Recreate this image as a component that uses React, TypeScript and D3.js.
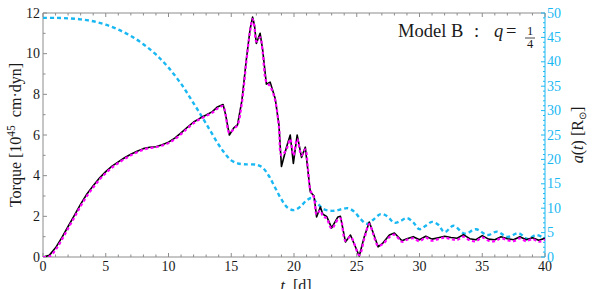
import React from 'react'
import * as d3 from 'd3'

// torque (black solid, simulation) in 1e45 cm dyn
const tTorque = [0, 0.5, 1, 1.5, 2, 2.5, 3, 3.5, 4, 4.5, 5, 5.5, 6, 6.5, 7, 7.5, 8, 8.5, 9, 9.5, 10, 10.5, 11, 11.5, 12, 12.5, 13, 13.5, 13.9, 14.35, 14.55, 14.85, 15.2, 15.5, 15.85, 16.2, 16.5, 16.7, 16.85, 17, 17.3, 17.5, 17.8, 18.1, 18.5, 18.8, 19, 19.4, 19.7, 19.95, 20.25, 20.6, 20.9, 21.1, 21.3, 21.6, 21.8, 22.1, 22.3, 22.6, 23, 23.5, 23.7, 24.1, 24.5, 25.2, 25.6, 26, 26.3, 26.7, 27.1, 27.6, 28, 28.6, 29, 29.5, 30, 30.5, 31, 31.5, 32, 32.5, 33, 33.5, 34, 34.5, 35, 35.5, 36, 36.5, 37, 37.5, 38, 38.5, 39, 39.5, 40]
const torqueBlack = [0, 0.08, 0.45, 0.95, 1.5, 2.05, 2.6, 3.1, 3.5, 3.88, 4.2, 4.47, 4.68, 4.88, 5.05, 5.2, 5.33, 5.4, 5.42, 5.52, 5.65, 5.85, 6.1, 6.38, 6.64, 6.82, 6.98, 7.15, 7.38, 7.5, 7.0, 6.0, 6.35, 6.5, 7.7, 9.7, 11.2, 11.8, 11.4, 10.5, 11.0, 10.2, 8.5, 8.6, 7.8, 6.5, 4.45, 5.4, 6.0, 4.6, 6.0, 4.9, 5.4, 4.3, 3.2, 3.0, 1.97, 2.46, 2.1, 2.0, 1.43, 1.97, 2.0, 0.74, 1.08, 0.05, 1.0, 1.72, 1.2, 0.5, 0.7, 1.08, 1.18, 0.8, 0.9, 1.0, 0.85, 1.02, 0.88, 0.95, 1.02, 0.96, 0.92, 1.1, 0.9, 0.85, 1.05, 0.88, 0.85, 1.0, 0.9, 0.85, 1.0, 0.85, 0.95, 0.82, 0.92]
// torque (magenta dashed, analytic)
const torqueMagenta = [0, 0.02, 0.35, 0.85, 1.4, 1.95, 2.5, 3.0, 3.42, 3.8, 4.12, 4.4, 4.62, 4.82, 5.0, 5.15, 5.28, 5.36, 5.4, 5.48, 5.6, 5.8, 6.04, 6.32, 6.58, 6.78, 6.94, 7.1, 7.3, 7.42, 7.0, 6.1, 6.3, 6.5, 7.6, 9.6, 11.1, 11.7, 11.3, 10.6, 10.8, 10.1, 8.6, 8.4, 7.7, 6.4, 5.0, 5.3, 5.8, 5.0, 5.8, 5.0, 5.3, 4.4, 3.3, 2.9, 2.1, 2.3, 2.0, 1.9, 1.4, 1.85, 1.9, 0.8, 1.0, 0.1, 0.9, 1.62, 1.15, 0.55, 0.65, 0.98, 1.1, 0.75, 0.85, 0.92, 0.78, 0.95, 0.8, 0.88, 0.95, 0.88, 0.84, 1.0, 0.82, 0.78, 0.96, 0.8, 0.78, 0.92, 0.82, 0.78, 0.92, 0.78, 0.88, 0.75, 0.86]

// orbital separation a(t) in solar radii (cyan dashed, right axis)
const tSep = [0, 1, 2, 3, 4, 5, 6, 7, 8, 9, 10, 11, 12, 13, 14, 14.5, 15, 15.5, 16, 17, 17.5, 18, 18.5, 19, 19.5, 20, 20.5, 21, 21.4, 21.8, 22.3, 22.8, 23.3, 23.8, 24.3, 24.8, 25.3, 25.8, 26.3, 26.9, 27.4, 28, 28.5, 29, 29.5, 30, 30.5, 31, 31.5, 32, 32.7, 33.6, 34.5, 35.4, 36.2, 37, 37.9, 38.6, 39.3, 40]
const sep = [49.0, 49.0, 48.9, 48.7, 48.3, 47.6, 46.6, 45.3, 43.6, 41.5, 38.8, 35.5, 31.5, 27.3, 23.0, 21.2, 19.8, 19.2, 19.0, 18.9, 18.3, 16.6, 14.2, 11.8, 10.1, 9.6, 10.3, 11.6, 12.1, 11.2, 9.9, 9.5, 9.5, 9.8, 10.0, 9.3, 7.8, 6.8, 7.6, 8.8, 8.4, 7.0, 7.4, 8.0, 7.1, 5.7, 6.4, 7.2, 6.6, 5.1, 6.4, 4.8, 5.7, 4.5, 5.2, 4.1, 4.9, 3.7, 4.5, 3.8]

const xTicks = [0, 5, 10, 15, 20, 25, 30, 35, 40]
const yTicks = [0, 2, 4, 6, 8, 10, 12]
const y2Ticks = [0, 5, 10, 15, 20, 25, 30, 35, 40, 45, 50]

const W = 592
const H = 289
const L = 43, R = 545, T = 13, B = 257
const CYAN = '#19b8f2'
const GRAY = '#8c8c8c'
const serif = '"Liberation Serif", "Times New Roman", serif'

export default function App() {
  const x = d3.scaleLinear().domain([0, 40]).range([L, R])
  const y = d3.scaleLinear().domain([0, 12]).range([B, T])
  const y2 = d3.scaleLinear().domain([0, 50]).range([B, T])

  const torqueLine = d3.line<number>().x((_, i) => x(tTorque[i])).y(d => y(d))
  const magLine = d3.line<number>().x((_, i) => x(tTorque[i])).y(d => y(d)).curve(d3.curveCatmullRom)
  const sepLine = d3.line<number>().x((_, i) => x(tSep[i])).y(d => y2(d)).curve(d3.curveCatmullRom)

  const minorX = d3.range(0, 41, 1)
  const minorY = d3.range(0, 13, 1)
  const minorY2 = d3.range(0, 51, 1)

  return (
    <svg width={W} height={H} style={{ position: 'absolute', left: 0, top: 0 }} fontFamily={serif}>
      <rect width={W} height={H} fill="white" />
      <defs>
        <clipPath id="plot"><rect x={L} y={T - 2} width={R - L} height={B - T + 2} /></clipPath>
      </defs>

      {/* frame */}
      <line x1={L} x2={R} y1={T} y2={T} stroke={GRAY} strokeWidth={1} />
      <line x1={L} x2={R} y1={B} y2={B} stroke={GRAY} strokeWidth={1} />
      <line x1={L} x2={L} y1={T} y2={B} stroke={GRAY} strokeWidth={1} />
      <line x1={R} x2={R} y1={T} y2={B} stroke={CYAN} strokeWidth={1} />

      {/* x ticks top and bottom */}
      {minorX.map(v => {
        const len = v % 5 === 0 ? 4 : 2.5
        return (
          <g key={'xt' + v}>
            <line x1={x(v)} x2={x(v)} y1={B} y2={B - len} stroke={GRAY} />
            <line x1={x(v)} x2={x(v)} y1={T} y2={T + len} stroke={GRAY} />
          </g>
        )
      })}
      {minorY.map(v => (
        <line key={'yt' + v} x1={L} x2={L + (v % 2 === 0 ? 4 : 2.5)} y1={y(v)} y2={y(v)} stroke={GRAY} />
      ))}
      {minorY2.map(v => (
        <line key={'y2t' + v} x1={R} x2={R - (v % 5 === 0 ? 4 : 2)} y1={y2(v)} y2={y2(v)} stroke={CYAN} />
      ))}

      {/* tick labels */}
      {xTicks.map(v => (
        <text key={'xl' + v} x={x(v)} y={B + 13.5} textAnchor="middle" fontSize={14} fill="#1a1a1a">{v}</text>
      ))}
      {yTicks.map(v => (
        <text key={'yl' + v} x={L - 3} y={y(v) + 4.5} textAnchor="end" fontSize={14} fill="#1a1a1a">{v}</text>
      ))}
      {y2Ticks.map(v => (
        <text key={'y2l' + v} x={R + 2} y={y2(v) + 4.5} textAnchor="start" fontSize={14} fill={CYAN}>{v}</text>
      ))}

      {/* data */}
      <g clipPath="url(#plot)">
        <path d={sepLine(sep) || ''} fill="none" stroke={CYAN} strokeWidth={2.4} strokeDasharray="4 3" />
        <path d={torqueLine(torqueBlack) || ''} fill="none" stroke="#000" strokeWidth={1.6} strokeLinejoin="round" />
        <path d={magLine(torqueMagenta) || ''} fill="none" stroke="#ff00ff" strokeWidth={2.2} strokeDasharray="3 2.5" />
      </g>

      {/* axis titles */}
      <text transform={`translate(21,${(T + B) / 2}) rotate(-90)`} textAnchor="middle" fontSize={16} fill="#1a1a1a">
        Torque [10<tspan dy={-6} fontSize={11.5}>45</tspan><tspan dy={6}>{'\u2002'}cm·dyn]</tspan>
      </text>
      <text transform={`translate(583,${(T + B) / 2}) rotate(-90)`} textAnchor="middle" fontSize={16} fill="#1a1a1a">
        <tspan fontStyle="italic">a</tspan>(<tspan fontStyle="italic">t</tspan>) [R<tspan fontSize={10} dy={3}>⊙</tspan><tspan dy={-3}>]</tspan>
      </text>
      <text x={296} y={291} textAnchor="middle" fontSize={16} fill="#1a1a1a">
        <tspan fontStyle="italic">t</tspan>{'\u2002'}[d]
      </text>

      {/* annotation */}
      <text x={398} y={37} fontSize={18.5} fill="#1a1a1a">Model B</text>
      <text x={474} y={37} fontSize={18.5} fill="#1a1a1a">:</text>
      <text x={494} y={37} fontSize={18.5} fill="#1a1a1a" fontStyle="italic">q</text>
      <text x={506} y={37} fontSize={18.5} fill="#1a1a1a">=</text>
      <text x={530} y={35} fontSize={12.5} textAnchor="middle" fill="#1a1a1a">1</text>
      <line x1={525} x2={535} y1={38} y2={38} stroke="#1a1a1a" strokeWidth={0.8} />
      <text x={530} y={47.5} fontSize={12.5} textAnchor="middle" fill="#1a1a1a">4</text>
    </svg>
  )
}
